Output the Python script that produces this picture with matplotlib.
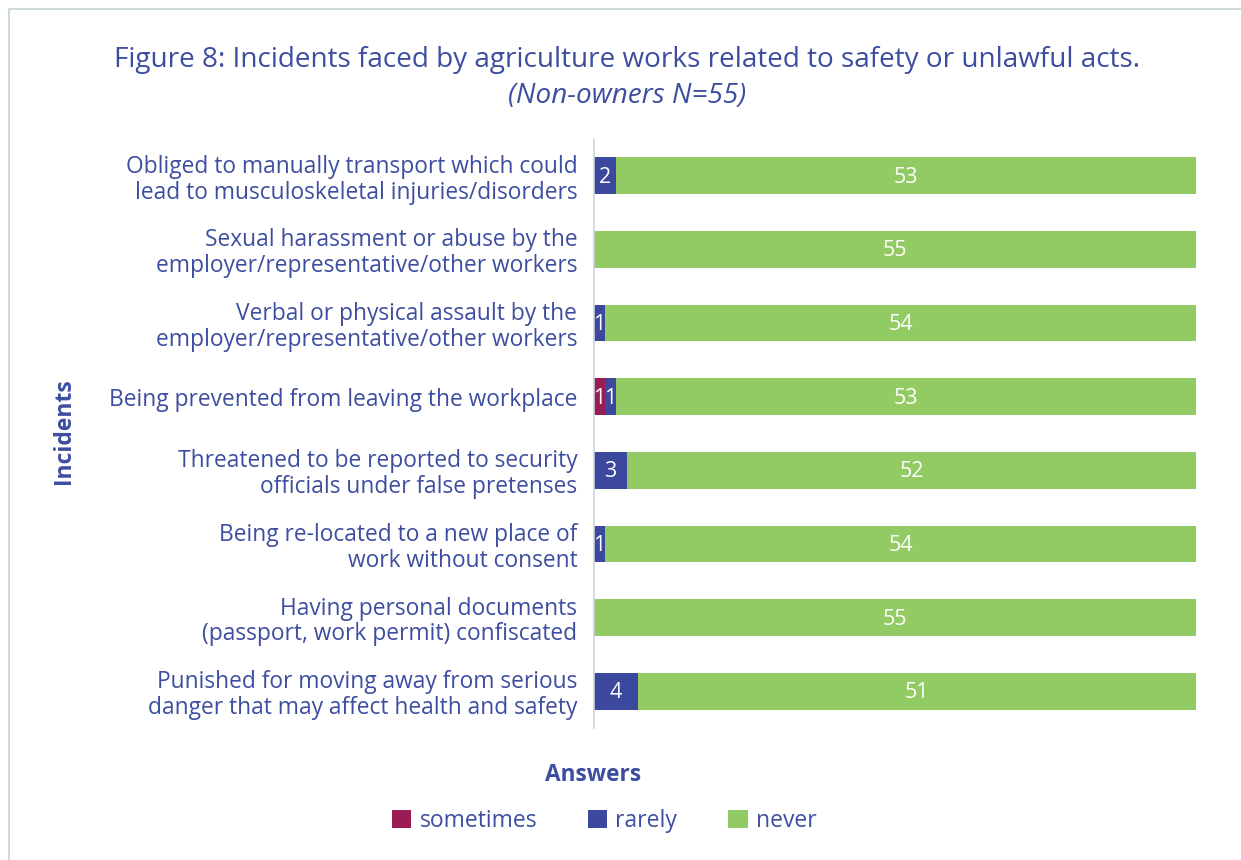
import matplotlib
matplotlib.use("Agg")
import matplotlib.pyplot as plt
from matplotlib.patches import Rectangle, Patch

categories = [
    "Obliged to manually transport which could\nlead to musculoskeletal injuries/disorders",
    "Sexual harassment or abuse by the\nemployer/representative/other workers",
    "Verbal or physical assault by the\nemployer/representative/other workers",
    "Being prevented from leaving the workplace",
    "Threatened to be reported to security\nofficials under false pretenses",
    "Being re-located to a new place of\nwork without consent",
    "Having personal documents\n(passport, work permit) confiscated",
    "Punished for moving away from serious\ndanger that may affect health and safety",
]
sometimes = [0, 0, 0, 1, 0, 0, 0, 0]
rarely = [2, 0, 1, 1, 3, 1, 0, 4]
never = [53, 55, 54, 53, 52, 54, 55, 51]
series_names = ["sometimes", "rarely", "never"]
colors = ["#9B1B55", "#3B489E", "#92CA64"]
text_color = "#3D4DA0"

plt.rcParams['font.family'] = ['Open Sans', 'DejaVu Sans']

fig = plt.figure(figsize=(12.41, 8.60), dpi=100)
fig.patches.append(Rectangle((9/1241, -0.1), 1.2, 1 - 9/860 + 0.1, transform=fig.transFigure,
                             fill=False, edgecolor="#C5D3D8", linewidth=1.2))

ax = fig.add_axes([594/1241, 1 - 728/860, (1196 - 594)/1241, (728 - 139)/860])
y = list(range(len(categories)))
left = [0] * len(categories)
for name, vals, col in zip(series_names, [sometimes, rarely, never], colors):
    ax.barh(y, vals, left=left, height=0.5, color=col, label=name)
    for yi, l, v in zip(y, left, vals):
        if v > 0:
            ax.text(l + v / 2, yi + 0.02, str(v), ha="center", va="center", color="white", fontsize=15.5)
    left = [a + b for a, b in zip(left, vals)]

ax.set_xlim(0, 55)
ax.set_ylim(7.5, -0.5)
ax.set_yticks(y)
ax.set_yticklabels(categories, fontsize=16.4, color=text_color, linespacing=1.1)
ax.tick_params(axis="y", length=0, pad=12)
ax.set_xticks([])
for s in ["top", "right", "bottom"]:
    ax.spines[s].set_visible(False)
ax.spines["left"].set_color("#C8D4DA")
ax.spines["left"].set_linewidth(1.2)

fig.text(64/1241, 1 - 431/860, "Incidents", rotation=90, ha="center", va="center",
         fontsize=16.5, fontweight="bold", color=text_color)
fig.text(593/1241, 1 - 775/860, "Answers", ha="center", va="center",
         fontsize=16.3, fontweight="bold", color=text_color)
fig.text(627/1241, 1 - 60/860, "Figure 8: Incidents faced by agriculture works related to safety or unlawful acts.",
         ha="center", va="center", fontsize=20.1, color=text_color)
fig.text(627/1241, 1 - 96/860, "(Non-owners N=55)", ha="center", va="center",
         fontsize=20.1, style="italic", color=text_color)

handles = [Patch(facecolor=c, label=n) for n, c in zip(series_names, colors)]
leg = fig.legend(handles=handles, loc="center", bbox_to_anchor=(604/1241, 1 - 821/860), ncol=3,
                 frameon=False, fontsize=16.5, handlelength=0.87, handleheight=0.87,
                 columnspacing=2.2, handletextpad=0.35)
for t in leg.get_texts():
    t.set_color(text_color)

fig.savefig("out.png", dpi=100)
